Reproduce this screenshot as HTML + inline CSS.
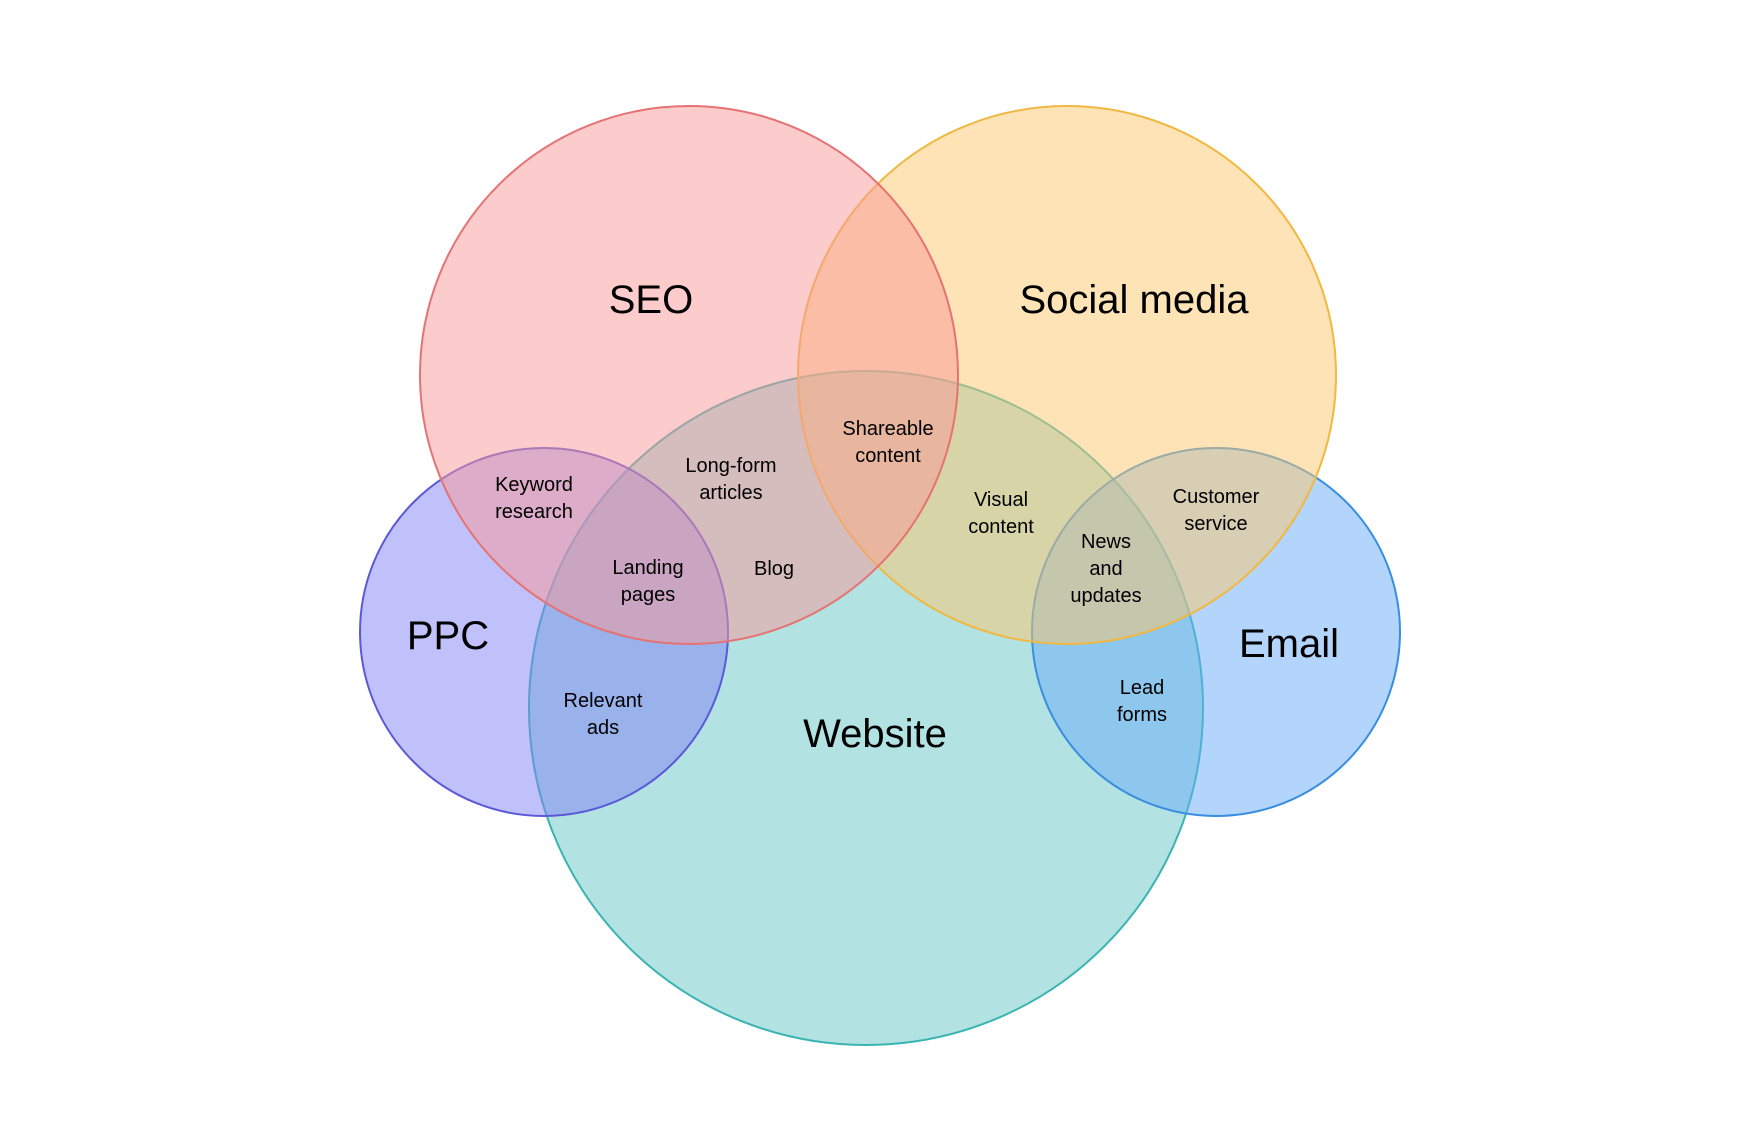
<!DOCTYPE html>
<html><head><meta charset="utf-8"><style>
html,body{margin:0;padding:0;background:#fff;}
svg{display:block;}
text{font-family:"Liberation Sans",Arial,sans-serif;fill:#000;text-anchor:middle;}
.b{font-size:40px;}
.s{font-size:20px;}
</style></head><body>
<svg width="1760" height="1140" viewBox="0 0 1760 1140">
<rect width="1760" height="1140" fill="#fff"/>
<circle cx="866" cy="708" r="337" fill="#65c5c5" fill-opacity="0.5" stroke="#3bb3b3" stroke-width="2"/>
<circle cx="544" cy="632" r="184" fill="#8181f5" fill-opacity="0.5" stroke="#5a5ad8" stroke-width="2"/>
<circle cx="1216" cy="632" r="184" fill="#67abf7" fill-opacity="0.5" stroke="#3a8ee0" stroke-width="2"/>
<circle cx="1067" cy="375" r="269" fill="#fbc86b" fill-opacity="0.5" stroke="#f0b840" stroke-width="2"/>
<circle cx="689" cy="375" r="269" fill="#f99898" fill-opacity="0.5" stroke="#e57373" stroke-width="2"/>
<text class="b" x="651" y="313">SEO</text>
<text class="b" x="1134" y="313">Social media</text>
<text class="b" x="448" y="649">PPC</text>
<text class="b" x="1289" y="657">Email</text>
<text class="b" x="875" y="747">Website</text>
<text class="s" x="534" y="491">Keyword</text><text class="s" x="534" y="518">research</text>
<text class="s" x="731" y="472">Long-form</text><text class="s" x="731" y="499">articles</text>
<text class="s" x="888" y="435">Shareable</text><text class="s" x="888" y="462">content</text>
<text class="s" x="1001" y="506">Visual</text><text class="s" x="1001" y="533">content</text>
<text class="s" x="1216" y="503">Customer</text><text class="s" x="1216" y="530">service</text>
<text class="s" x="1106" y="548">News</text><text class="s" x="1106" y="575">and</text><text class="s" x="1106" y="602">updates</text>
<text class="s" x="648" y="574">Landing</text><text class="s" x="648" y="601">pages</text>
<text class="s" x="774" y="575">Blog</text>
<text class="s" x="603" y="707">Relevant</text><text class="s" x="603" y="734">ads</text>
<text class="s" x="1142" y="694">Lead</text><text class="s" x="1142" y="721">forms</text>
</svg>
</body></html>
